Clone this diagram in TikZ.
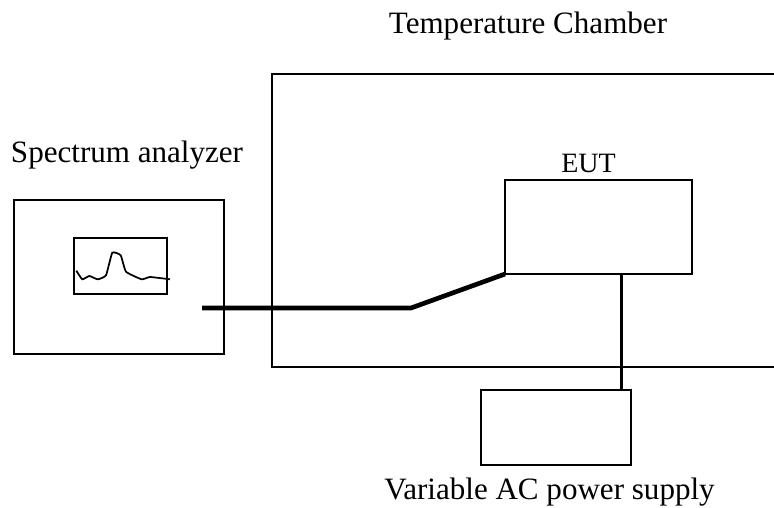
\documentclass[tikz,border=0pt]{standalone}
\usepackage{fontspec}
\setmainfont{Liberation Serif}
\usetikzlibrary{calc}

\begin{document}
\begin{tikzpicture}[x=0.75pt, y=-0.75pt, semithick,
                box/.style={draw, line width=1.2pt, inner sep=0pt, outer sep=0pt},
                caption/.style={inner sep=0pt, anchor=base, font=\fontsize{23.3}{24}\selectfont},
                cable/.style={line width=3.5pt, line join=bevel},
                wire/.style={line width=1.8pt}]
		\useasboundingbox (0,0) rectangle (774,507);
		\begin{scope}
			\node [box, minimum width=157.5pt, minimum height=115.5pt] (analyzer) at (119,277) {};
			\node [box, minimum width=69.75pt, minimum height=42pt] (screen) at (120.5,266) {};
			\node [box, minimum width=140.25pt, minimum height=70.5pt] (eut) at (598.5,227) {};
			\node [box, minimum width=112.5pt, minimum height=56.25pt] (supply) at (556,427.5) {};

			\coordinate (chambertr) at (774,74);
			\coordinate (chambertl) at (272,74);
			\coordinate (chamberbl) at (272,367);
			\coordinate (chamberbr) at (774,367);
			\coordinate (cablestart) at (202,308);
			\coordinate (cablebend) at (411,308);
			\coordinate (wiretop) at (621.5,274);
			\coordinate (wirebottom) at (621.5,390);

			\node [caption] (chamberlabel) at (528,33) {Temperature Chamber};
			\node [caption] (analyzerlabel) at (127,162) {Spectrum analyzer};
			\node [caption, font=\fontsize{21}{21}\selectfont] (eutlabel) at (588.5,172) {EUT};
			\node [caption] (supplylabel) at (549.5,499) {Variable AC power supply};

			\draw [line width=1.1pt] (chambertr) -- (chambertl) -- (chamberbl) -- (chamberbr);
			\draw [cable] (cablestart) -- (cablebend) -- (eut.south west);
			\draw [wire] (wiretop) -- (wirebottom);
			\draw [line width=1.3pt] plot [smooth, tension=0.25] coordinates {(76.3,270.7) (82.3,279.3) (89.3,276) (97.7,279.3) (106,275.3) (112.3,252.7) (120.7,255.3) (126,271.7) (141.7,279.3) (150,277) (170,279.3)};
		\end{scope}
\end{tikzpicture}
\end{document}
